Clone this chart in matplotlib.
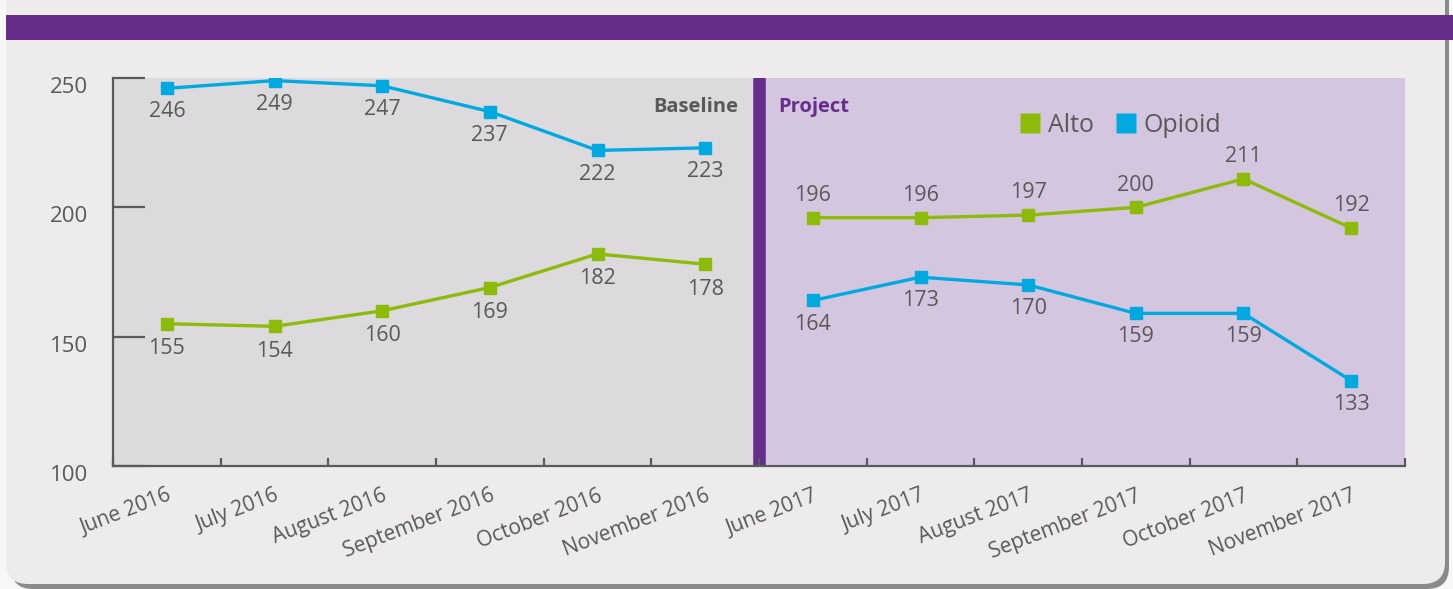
import matplotlib
matplotlib.use('Agg')
import matplotlib.pyplot as plt
from matplotlib.patches import FancyBboxPatch, Rectangle
from matplotlib.lines import Line2D
from matplotlib.transforms import ScaledTranslation

# chart data
months = ['June 2016', 'July 2016', 'August 2016', 'September 2016', 'October 2016',
          'November 2016', 'June 2017', 'July 2017', 'August 2017', 'September 2017',
          'October 2017', 'November 2017']
alto_baseline = [155, 154, 160, 169, 182, 178]
opioid_baseline = [246, 249, 247, 237, 222, 223]
alto_project = [196, 196, 197, 200, 211, 192]
opioid_project = [164, 173, 170, 159, 159, 133]
yticks = [100, 150, 200, 250]

GREEN = '#8DBB0B'
BLUE = '#00A9E0'
PURPLE = '#662D8A'
TXT = '#595959'

plt.rcParams['font.family'] = ['Open Sans', 'DejaVu Sans']

fig = plt.figure(figsize=(14.53, 5.89), dpi=100)
fig.patch.set_facecolor('#F7F7F7')

# background card with shadow and purple header band
fig.patches.append(FancyBboxPatch((0.11, 0.0), 14.38, 7.0, boxstyle='round,pad=0,rounding_size=0.22',
                                  transform=fig.dpi_scale_trans, facecolor='#8A8A8A',
                                  edgecolor='none', zorder=-3))
fig.patches.append(FancyBboxPatch((0.06, 0.05), 14.39, 7.0, boxstyle='round,pad=0,rounding_size=0.22',
                                  transform=fig.dpi_scale_trans, facecolor='#EDEBEC',
                                  edgecolor='none', zorder=-2))
fig.patches.append(Rectangle((0.06, 5.49), 14.6, 0.25, transform=fig.dpi_scale_trans,
                             facecolor=PURPLE, edgecolor='none', zorder=-1))

ax = fig.add_axes([113 / 1453, 123 / 589, 1292 / 1453, 388 / 589])
ax.set_facecolor('none')

x_base = list(range(6))
x_proj = list(range(6, 12))

ax.axvspan(-0.5, 5.5, color='#DCDADC', zorder=0, lw=0)
ax.axvspan(5.5, 11.5, color='#D5C6E0', zorder=0, lw=0)
ax.axvline(5.5, color=PURPLE, lw=9, zorder=1)

for xs, ys, c in [(x_base, opioid_baseline, BLUE), (x_base, alto_baseline, GREEN),
                  (x_proj, opioid_project, BLUE), (x_proj, alto_project, GREEN)]:
    ax.plot(xs, ys, color=c, lw=2.4, marker='s', markersize=9, zorder=3)

def label(xs, ys, dy):
    for xv, yv in zip(xs, ys):
        ax.annotate(str(yv), (xv, yv), xytext=(0, dy), textcoords='offset points',
                    ha='center', va='center', fontsize=15.5, color=TXT, zorder=4)

label(x_base, opioid_baseline, -17)
label(x_base, alto_baseline, -18)
label(x_proj, opioid_project, -17)
label(x_proj, alto_project, 16)

ax.text(5.31, 0.925, 'Baseline', transform=ax.get_xaxis_transform(), ha='right', va='center',
        fontsize=14.5, fontweight='bold', color=TXT)
ax.text(5.68, 0.925, 'Project', transform=ax.get_xaxis_transform(), ha='left', va='center',
        fontsize=14.5, fontweight='bold', color=PURPLE)

ax.set_xlim(-0.5, 11.5)
ax.set_ylim(100, 250)

for s in ['top', 'right']:
    ax.spines[s].set_visible(False)
for s in ['left', 'bottom']:
    ax.spines[s].set_color('#5A5A5A')
    ax.spines[s].set_linewidth(1.6)

ax.set_yticks(yticks)
ax.tick_params(axis='y', direction='in', length=23, width=1.6, color='#5A5A5A',
               labelsize=16, labelcolor=TXT, pad=18)
shift = ScaledTranslation(0, -5 / 72, fig.dpi_scale_trans)
for lbl in ax.get_yticklabels():
    lbl.set_transform(lbl.get_transform() + shift)

ax.set_xticks(range(12))
ax.set_xticklabels(months, rotation=21, ha='right', rotation_mode='anchor')
ax.tick_params(axis='x', which='major', length=0, labelsize=15, labelcolor=TXT, pad=14)
ax.set_xticks([i - 0.5 for i in range(13)], minor=True)
ax.tick_params(axis='x', which='minor', direction='in', length=6, width=1.6, color='#5A5A5A')

handles = [Line2D([], [], marker='s', color='none', markerfacecolor=GREEN, markeredgecolor='none', markersize=15),
           Line2D([], [], marker='s', color='none', markerfacecolor=BLUE, markeredgecolor='none', markersize=15)]
leg = ax.legend(handles, ['Alto', 'Opioid'], loc='center left', bbox_to_anchor=(0.683, 0.877),
                ncol=2, frameon=False, fontsize=18, labelcolor=TXT, handletextpad=0.2,
                columnspacing=0.8, handlelength=1.0)

fig.savefig('out.png', dpi=100, facecolor=fig.get_facecolor())
